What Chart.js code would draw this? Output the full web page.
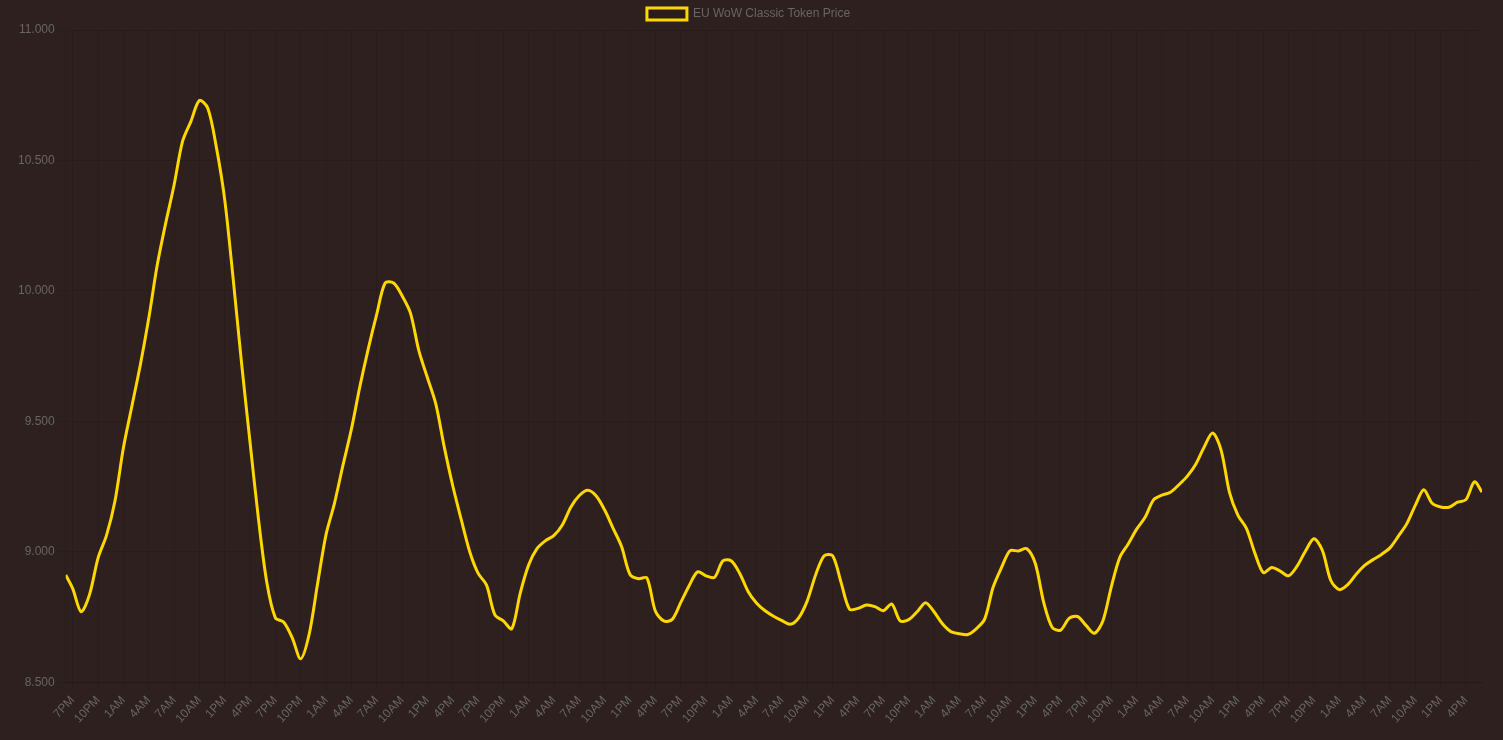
<!DOCTYPE html>
<html>
<head>
<meta charset="utf-8">
<title>EU WoW Classic Token Price</title>
<script src="https://cdn.jsdelivr.net/npm/chart.js@4"></script>
<style>
  html, body { margin: 0; padding: 0; background: #2e201e; }
  #wrap { position: absolute; left: 0; top: 0; width: 1503px; height: 740px; }
</style>
</head>
<body>
<div id="wrap"><canvas id="priceChart"></canvas></div>
<script>
// x axis: hours after the first 7PM tick
const tickLabels = ['7PM', '10PM', '1AM', '4AM', '7AM', '10AM', '1PM', '4PM'];

// first and last reading (not on the hour)
const firstHour = -0.83;
const firstPrice = 8.911;
const lastHour = 166.9;
const lastPrice = 9.229;

// hourly prices, hour 0 = 7PM
const prices = [
  8.859, 8.770, 8.837, 8.976, 9.063, 9.194, 9.398, 9.557, 9.715, 9.894,
  10.097, 10.258, 10.405, 10.572, 10.650, 10.730, 10.700, 10.553, 10.350, 10.047,
  9.722, 9.420, 9.125, 8.880, 8.747, 8.730, 8.670, 8.590, 8.684, 8.878,
  9.066, 9.186, 9.331, 9.469, 9.632, 9.778, 9.910, 10.030, 10.030, 9.982,
  9.915, 9.770, 9.668, 9.567, 9.402, 9.254, 9.125, 9.002, 8.918, 8.873,
  8.758, 8.735, 8.705, 8.842, 8.950, 9.013, 9.043, 9.063, 9.104, 9.172,
  9.216, 9.236, 9.214, 9.160, 9.090, 9.020, 8.913, 8.897, 8.900, 8.773,
  8.735, 8.741, 8.805, 8.870, 8.923, 8.908, 8.902, 8.965, 8.965, 8.917,
  8.847, 8.803, 8.774, 8.753, 8.736, 8.722, 8.748, 8.813, 8.913, 8.985,
  8.985, 8.882, 8.780, 8.783, 8.796, 8.790, 8.774, 8.800, 8.735, 8.740,
  8.770, 8.805, 8.770, 8.724, 8.694, 8.686, 8.683, 8.705, 8.742, 8.864,
  8.940, 9.004, 9.003, 9.012, 8.955, 8.805, 8.710, 8.700, 8.745, 8.752,
  8.718, 8.688, 8.735, 8.866, 8.978, 9.030, 9.087, 9.132, 9.199, 9.217,
  9.228, 9.257, 9.290, 9.336, 9.402, 9.455, 9.390, 9.227, 9.140, 9.090,
  8.995, 8.920, 8.940, 8.926, 8.908, 8.945, 9.003, 9.050, 9.005, 8.890,
  8.855, 8.874, 8.914, 8.948, 8.970, 8.990, 9.015, 9.060, 9.108, 9.178,
  9.238, 9.186, 9.172, 9.171, 9.190, 9.200, 9.268
];

// build the point list
function buildPoints() {
  const pts = [{ x: firstHour, y: firstPrice }];
  for (let i = 0; i < prices.length; i++) {
    pts.push({ x: i, y: prices[i] });
  }
  pts.push({ x: lastHour, y: lastPrice });
  return pts;
}

const gridColor = 'rgba(0, 0, 0, 0.1)';

const price_chart = new Chart(document.getElementById('priceChart'), {
  type: 'line',
  data: {
    datasets: [{
      label: 'EU WoW Classic Token Price',
      data: buildPoints(),
      borderColor: '#ffd700',
      backgroundColor: 'rgba(0, 0, 0, 0.1)',
      borderWidth: 3,
      pointRadius: 0,
      tension: 0.3,
      fill: false
    }]
  },
  options: {
    responsive: true,
    maintainAspectRatio: false,
    animation: false,
    layout: { padding: { left: 15, right: 21, top: 0, bottom: 11 } },
    plugins: {
      legend: { display: true, labels: { padding: 8 } },
      tooltip: { enabled: false }
    },
    scales: {
      x: {
        type: 'linear',
        min: firstHour,
        max: lastHour,
        grid: { color: gridColor },
        ticks: {
          stepSize: 3,
          includeBounds: false,
          autoSkip: false,
          minRotation: 47,
          maxRotation: 47,
          callback: function (value) {
            const idx = Math.round(value / 3);
            return tickLabels[((idx % 8) + 8) % 8];
          }
        }
      },
      y: {
        min: 8.5,
        max: 11,
        grid: { color: gridColor },
        ticks: {
          stepSize: 0.5,
          callback: function (value) {
            return value.toFixed(3);
          }
        }
      }
    }
  }
});
</script>
</body>
</html>
